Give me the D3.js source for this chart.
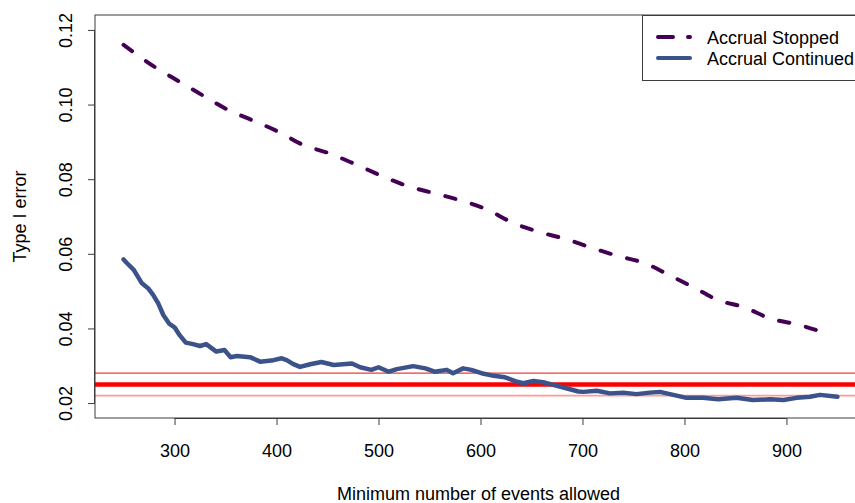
<!DOCTYPE html>
<html>
<head>
<meta charset="utf-8">
<script src="https://cdn.jsdelivr.net/npm/d3@7"></script>
<style>
  html, body { margin: 0; padding: 0; background: #fff; }
  svg { display: block; font-family: "Liberation Sans", Arial, sans-serif; }
</style>
</head>
<body>
<svg id="chart" width="855" height="503"></svg>
<script>
// Type I error by minimum number of events allowed
const stoppedX = [250, 281, 305, 328, 353, 377, 402, 426, 452, 479, 503, 528, 555, 582, 607, 631, 657, 683, 709, 735, 761, 785, 809, 833, 858, 884, 910, 937];
const stoppedY = [0.1160, 0.1100, 0.1061, 0.1024, 0.0985, 0.0957, 0.0927, 0.0892, 0.0869, 0.0838, 0.0809, 0.0782, 0.0762, 0.0742, 0.0718, 0.0684, 0.0659, 0.0640, 0.0616, 0.0594, 0.0575, 0.0543, 0.0510, 0.0476, 0.0457, 0.0427, 0.0411, 0.0389];

const continuedX = [250, 253, 260, 268, 274, 279, 284, 289, 295, 300, 305, 311, 318, 325, 331, 341, 349, 355, 361, 374, 384, 397, 405, 410, 416, 423, 433, 444, 456, 474, 482, 493, 500, 510, 518, 534, 546, 555, 567, 573, 583, 591, 601, 613, 624, 636, 642, 652, 663, 675, 685, 696, 701, 714, 727, 740, 753, 766, 776, 789, 802, 818, 833, 851, 867, 884, 897, 910, 923, 933, 950];
const continuedY = [0.0585, 0.0576, 0.0557, 0.0521, 0.0508, 0.0490, 0.0467, 0.0436, 0.0412, 0.0403, 0.0382, 0.0362, 0.0358, 0.0353, 0.0358, 0.0338, 0.0342, 0.0323, 0.0326, 0.0323, 0.0311, 0.0315, 0.0320, 0.0315, 0.0305, 0.0297, 0.0304, 0.0310, 0.0302, 0.0306, 0.0296, 0.0289, 0.0296, 0.0284, 0.0291, 0.0299, 0.0293, 0.0284, 0.0289, 0.0280, 0.0293, 0.0289, 0.0280, 0.0273, 0.0269, 0.0257, 0.0253, 0.0259, 0.0255, 0.0246, 0.0239, 0.0231, 0.0230, 0.0233, 0.0226, 0.0228, 0.0224, 0.0228, 0.0230, 0.0222, 0.0214, 0.0214, 0.0210, 0.0214, 0.0208, 0.0210, 0.0208, 0.0214, 0.0217, 0.0222, 0.0217];

const xTicks = [300, 400, 500, 600, 700, 800, 900];
const yTicks = [0.02, 0.04, 0.06, 0.08, 0.10, 0.12];
const yTickLabels = ["0.02", "0.04", "0.06", "0.08", "0.10", "0.12"];

// Nominal level and its band
const refValues = [0.028, 0.025, 0.022];
const refColors = ["#f03a3a", "#ff0000", "#ff9a9a"];
const refWidths = [1.2, 4.5, 1.6];

const seriesNames = ["Accrual Stopped", "Accrual Continued"];
const seriesColors = ["#440154", "#3b528b"];

const FONT = 18;
const svg = d3.select("#chart");
const plot = { left: 95, top: 15, right: 866, bottom: 418 };

const x = d3.scaleLinear().domain([222, 978]).range([plot.left, plot.right]);
const y = d3.scaleLinear().domain([0.016, 0.124]).range([plot.bottom, plot.top]);

svg.append("defs").append("clipPath").attr("id", "plotClip")
  .append("rect")
  .attr("x", plot.left).attr("y", plot.top)
  .attr("width", plot.right - plot.left).attr("height", plot.bottom - plot.top);

const clipped = svg.append("g").attr("clip-path", "url(#plotClip)");

// horizontal reference lines
clipped.selectAll("line.ref")
  .data(refValues)
  .join("line")
  .attr("class", "ref")
  .attr("x1", plot.left).attr("x2", plot.right)
  .attr("y1", d => y(d)).attr("y2", d => y(d))
  .attr("stroke", (d, i) => refColors[i])
  .attr("stroke-width", (d, i) => refWidths[i]);

const stoppedData = stoppedX.map((v, i) => [v, stoppedY[i]]);
const continuedData = continuedX.map((v, i) => [v, continuedY[i]]);

clipped.append("path")
  .datum(stoppedData)
  .attr("d", d3.line().x(d => x(d[0])).y(d => y(d[1])).curve(d3.curveMonotoneX))
  .attr("fill", "none")
  .attr("stroke", seriesColors[0])
  .attr("stroke-width", 4)
  .attr("stroke-linecap", "round")
  .attr("stroke-linejoin", "round")
  .attr("stroke-dasharray", "10.5,17");

clipped.append("path")
  .datum(continuedData)
  .attr("d", d3.line().x(d => x(d[0])).y(d => y(d[1])))
  .attr("fill", "none")
  .attr("stroke", seriesColors[1])
  .attr("stroke-width", 4.5)
  .attr("stroke-linecap", "round")
  .attr("stroke-linejoin", "round");

// plot frame
svg.append("rect")
  .attr("x", plot.left).attr("y", plot.top)
  .attr("width", plot.right - plot.left).attr("height", plot.bottom - plot.top)
  .attr("fill", "none").attr("stroke", "#3c3c3c").attr("stroke-width", 1);

// x axis
const xAxis = d3.axisBottom(x).tickValues(xTicks).tickSize(7).tickPadding(19).tickFormat(d3.format("d"));
const gx = svg.append("g").attr("transform", `translate(0,${plot.bottom})`).call(xAxis);
gx.select(".domain").attr("d", `M${x(xTicks[0])},0.5H${x(xTicks[xTicks.length - 1])}`).attr("stroke", "#3c3c3c");
gx.selectAll(".tick line").attr("stroke", "#3c3c3c");
gx.selectAll(".tick text").attr("font-size", FONT).attr("fill", "#000")
  .attr("font-family", "Liberation Sans, Arial, sans-serif")
  .attr("dy", null).attr("y", 39);

// y axis
const yAxis = d3.axisLeft(y).tickValues(yTicks).tickSize(7).tickFormat((d, i) => yTickLabels[i]);
const gy = svg.append("g").attr("transform", `translate(${plot.left},0)`).call(yAxis);
gy.select(".domain").attr("d", `M-0.5,${y(yTicks[0])}V${y(yTicks[yTicks.length - 1])}`).attr("stroke", "#3c3c3c");
gy.selectAll(".tick line").attr("stroke", "#3c3c3c");
gy.selectAll(".tick text")
  .attr("font-size", FONT).attr("fill", "#000")
  .attr("font-family", "Liberation Sans, Arial, sans-serif")
  .attr("x", null).attr("dy", null)
  .attr("text-anchor", "middle")
  .attr("transform", "translate(-23,0) rotate(-90)");

// axis titles
svg.append("text")
  .attr("x", (plot.left + plot.right) / 2 - 2)
  .attr("y", 500)
  .attr("text-anchor", "middle")
  .attr("font-size", FONT)
  .attr("fill", "#000")
  .text("Minimum number of events allowed");

svg.append("text")
  .attr("transform", `translate(26,${(plot.top + plot.bottom) / 2}) rotate(-90)`)
  .attr("text-anchor", "middle")
  .attr("font-size", FONT)
  .attr("fill", "#000")
  .text("Type I error");

// legend
const legend = svg.append("g");
legend.append("rect")
  .attr("x", 642.5).attr("y", 15.5)
  .attr("width", 260).attr("height", 65)
  .attr("fill", "#fff").attr("stroke", "#3c3c3c").attr("stroke-width", 1);

const legendRows = [37, 58];
legend.selectAll("line.key")
  .data(seriesNames)
  .join("line")
  .attr("class", "key")
  .attr("x1", 658).attr("x2", 690)
  .attr("y1", (d, i) => legendRows[i]).attr("y2", (d, i) => legendRows[i])
  .attr("stroke", (d, i) => seriesColors[i])
  .attr("stroke-width", 4)
  .attr("stroke-linecap", "round")
  .attr("stroke-dasharray", (d, i) => i === 0 ? "15,15" : null);

legend.selectAll("text.key")
  .data(seriesNames)
  .join("text")
  .attr("class", "key")
  .attr("x", 707)
  .attr("y", (d, i) => legendRows[i] + 6.5)
  .attr("font-size", FONT)
  .attr("fill", "#000")
  .text(d => d);
</script>
</body>
</html>
